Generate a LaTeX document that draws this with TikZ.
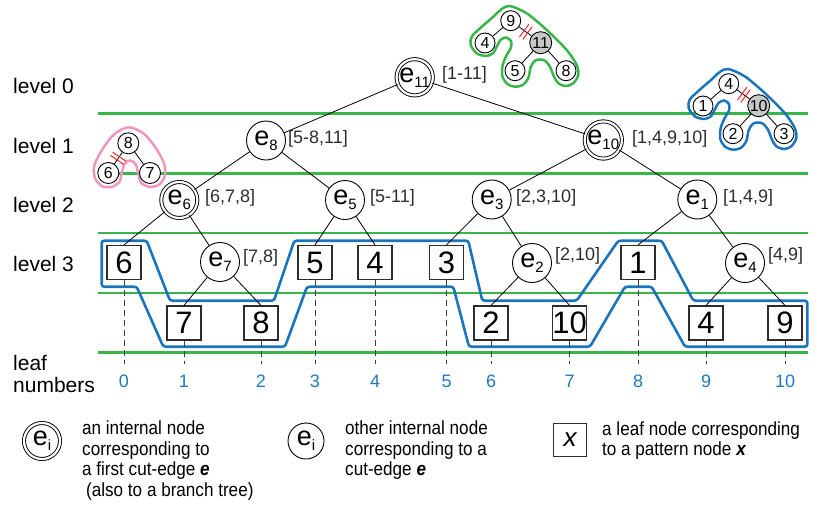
\documentclass[tikz,border=0pt]{standalone}
\usepackage{fontspec}
\setmainfont{Liberation Sans}
\newfontfamily\legendfont[FakeStretch=0.9]{Liberation Sans}
\usetikzlibrary{calc}
\definecolor{lgreen}{RGB}{57,181,74}
\definecolor{lblue}{RGB}{28,117,188}
\definecolor{numblue}{RGB}{30,122,192}
\definecolor{lpink}{RGB}{240,150,190}
\definecolor{cutred}{RGB}{235,40,50}
\definecolor{txtgray}{RGB}{45,45,45}
\definecolor{nodegray}{RGB}{200,200,200}
\newcommand{\enode}[1]{{\fontsize{27}{27}\selectfont e}\raisebox{-5pt}{\fontsize{15}{15}\selectfont #1}}
\newcommand{\treeoutline}{(510,6) (526.7,13.3) (546.7,30) (566.7,50) (576.7,65) (578.3,75) (573.3,83.3) (566,86) (558.3,83.3) (554,76.7) (550,66.7) (545,60.7) (540,59.5) (535,60.7) (530.7,67) (528.3,78) (522.7,85) (515,86.7) (507.3,84) (502.3,76) (502.7,65) (506.7,55) (511,47.5) (511,41) (506,37.5) (500.5,40) (496.5,47) (493,53.3) (486,56) (476.7,53.3) (470.7,45) (471.7,36.7) (480,28.3) (493.3,16.7) (501.7,9)}
\begin{document}
\begin{tikzpicture}[x=1pt,y=-1pt,
  inode/.style={circle,draw,line width=0.9pt,fill=white,minimum size=39pt,inner sep=0pt},
  fnode/.style={circle,draw,line width=0.9pt,double,double distance=2.2pt,fill=white,minimum size=36pt,inner sep=0pt},
  leafbox/.style={draw=txtgray,line width=1.2pt,fill=white,minimum size=34pt,inner sep=0pt,font=\fontsize{31}{31}\selectfont},
  small/.style={circle,draw,line width=0.9pt,fill=white,minimum size=20pt,inner sep=0pt,font=\fontsize{16}{16}\selectfont},
  smallgray/.style={small,fill=nodegray,minimum size=22pt},
  rng/.style={anchor=west,text=txtgray,font=\fontsize{18}{18}\selectfont,inner sep=0pt},
  lvl/.style={anchor=west,font=\fontsize{21}{21}\selectfont,inner sep=0pt},
  edge/.style={line width=0.8pt},
  hline/.style={lgreen,line width=2.5pt},
  dline/.style={dash pattern=on 6pt off 4pt,line width=1pt,black!75},
  leafnum/.style={text=numblue,font=\fontsize{18}{18}\selectfont,inner sep=0pt},
  tube/.style={line width=2.5pt},
  cut/.style={cutred,line width=1pt},
  legtext/.style={anchor=west,align=left,inner sep=0pt,font=\legendfont\fontsize{19}{20.5}\selectfont}
]
\useasboundingbox (0,0) rectangle (821,509);

% green level lines
\foreach \yy in {113.3,173.3,233,293,352.7} \draw[hline] (98,\yy) -- (808,\yy);

% ---- green small tree
\draw[tube,lgreen] plot[smooth cycle,tension=0.5] coordinates {\treeoutline};
\node[small] (n9) at (510.7,20.7) {9};
\node[small] (n4) at (485,43) {4};
\node[smallgray] (n11) at (540.7,42.7) {11};
\node[small] (n5) at (515,70.7) {5};
\node[small] (n8) at (566,70.7) {8};
\draw[edge] (n9) -- (n4);
\draw[edge] (n9) -- (n11);
\draw[edge] (n11) -- (n5);
\draw[edge] (n11) -- (n8);

% ---- blue small tree
\begin{scope}[shift={(218,63)}]
\draw[tube,lblue] plot[smooth cycle,tension=0.5] coordinates {\treeoutline};
\node[small] (m4) at (510.7,20.7) {4};
\node[small] (m1) at (485,43) {1};
\node[smallgray] (m10) at (540.7,42.7) {10};
\node[small] (m2) at (515,70.7) {2};
\node[small] (m3) at (566,70.7) {3};
\end{scope}
\draw[edge] (m4) -- (m1);
\draw[edge] (m4) -- (m10);
\draw[edge] (m10) -- (m2);
\draw[edge] (m10) -- (m3);

% ---- pink small tree
\draw[tube,lpink] plot[smooth cycle,tension=0.5] coordinates {(128.3,127.3) (113.3,135) (100,153.3) (94,166.7) (95,178.3) (101.7,186) (111.7,187) (119.3,182) (121.7,173.3) (124.5,164) (130,160.5) (135.5,164) (138.3,173.3) (141,182.7) (150,187) (160,184) (165,175) (164,163.3) (155,146.7) (143.3,133.3)};
\node[small,minimum size=21pt] (q8) at (128.3,143.3) {8};
\node[small,minimum size=21pt] (q6) at (108.3,173) {6};
\node[small,minimum size=21pt] (q7) at (150,173) {7};
\draw[edge] (q8) -- (q6);
\draw[edge] (q8) -- (q7);

% cut marks
\foreach \a/\b in {n9/n11,m4/m10,q8/q6}{
  \coordinate (c1) at ($(\a)!0.45!(\b)$);
  \coordinate (c2) at ($(\a)!0.56!(\b)$);
  \draw[cut] ($(c1)!8pt!90:(\b)$) -- ($(c1)!8pt!-90:(\b)$);
  \draw[cut] ($(c2)!8pt!90:(\b)$) -- ($(c2)!8pt!-90:(\b)$);
}

% big blue outline
\draw[lblue,line width=2.6pt,rounded corners=2.5pt]
 (101.7,240.7) -- (146.7,240.7) -- (170,300.7) -- (274,300.7) -- (294.3,240.7)
 -- (468.3,240.7) -- (482.3,300.7) -- (576.7,300.7) -- (618.3,240.7) -- (661.7,240.7)
 -- (693.3,300.7) -- (807.3,300.7) -- (807.3,346.7) -- (685,346.7) -- (651.7,286.7)
 -- (625,286.7) -- (590,346.7) -- (469,346.7) -- (453.3,286.7) -- (307,286.7)
 -- (285,346.7) -- (163.3,346.7) -- (136.7,286.7) -- (101.7,286.7) -- cycle;

% level labels
\node[lvl] (l0) at (13,86) {level 0};
\node[lvl] (l1) at (13,146) {level 1};
\node[lvl] (l2) at (13,205) {level 2};
\node[lvl] (l3) at (13,264) {level 3};
\node[lvl] (lf) at (13,363) {leaf};
\node[lvl] (lnum) at (13,385) {numbers};

% main tree
\node[fnode] (e11) at (414.7,77.3) {\enode{11}};
\node[rng] at (442,75) {[1-11]};
\node[inode] (e8) at (266,140.5) {\enode{8}};
\node[rng] at (288,139) {[5-8,11]};
\node[fnode] (e10) at (603.3,140) {\enode{10}};
\node[rng] at (632,139) {[1,4,9,10]};
\node[fnode] (e6) at (179.3,200) {\enode{6}};
\node[rng] at (205,198) {[6,7,8]};
\node[inode] (e5) at (345,200) {\enode{5}};
\node[rng] at (370,198) {[5-11]};
\node[inode] (e3) at (491.7,199.5) {\enode{3}};
\node[rng] at (516,198) {[2,3,10]};
\node[inode] (e1) at (697.3,199.5) {\enode{1}};
\node[rng] at (723,198) {[1,4,9]};

\node[leafbox] (b6) at (124,262.5) {6};
\node[inode] (e7) at (220,262) {\enode{7}};
\node[rng] at (243,258) {[7,8]};
\node[leafbox] (b5) at (315,262.5) {5};
\node[leafbox] (b4) at (375,262.5) {4};
\node[leafbox] (b3) at (446.5,262.5) {3};
\node[inode] (e2) at (532,263) {\enode{2}};
\node[rng] at (555,256) {[2,10]};
\node[leafbox] (b1) at (638,262.5) {1};
\node[inode] (e4) at (745,263) {\enode{4}};
\node[rng] at (768,256) {[4,9]};

\node[leafbox] (b7) at (184,323) {7};
\node[leafbox] (b8) at (261,323) {8};
\node[leafbox] (b2) at (491,323) {2};
\node[leafbox] (b10) at (569.5,323) {10};
\node[leafbox] (b4r) at (706,323) {4};
\node[leafbox] (b9) at (785,323) {9};

\draw[edge] (e11) -- (e8);
\draw[edge] (e11) -- (e10);
\draw[edge] (e8) -- (e6);
\draw[edge] (e8) -- (e5);
\draw[edge] (e10) -- (e3);
\draw[edge] (e10) -- (e1);
\draw[edge] (e6) -- (b6.north);
\draw[edge] (e6) -- (e7);
\draw[edge] (e7) -- (b7.north);
\draw[edge] (e7) -- (b8.north);
\draw[edge] (e5) -- (b5.north);
\draw[edge] (e5) -- (b4.north);
\draw[edge] (e3) -- (b3.north);
\draw[edge] (e3) -- (e2);
\draw[edge] (e2) -- (b2.north);
\draw[edge] (e2) -- (b10.north);
\draw[edge] (e1) -- (b1.north);
\draw[edge] (e1) -- (e4);
\draw[edge] (e4) -- (b4r.north);
\draw[edge] (e4) -- (b9.north);

% dashed lines and leaf numbers
\foreach \b/\x/\n in {b6/124/0,b7/184/1,b8/261/2,b5/315/3,b4/375/4,b3/446.5/5,b2/491/6,b10/569.5/7,b1/638/8,b4r/706/9,b9/785/10}{
  \coordinate (d\n) at (\x,364);
  \draw[dline] (\b.south) -- (d\n);
  \node[leafnum] (ln\n) at (\x,381) {\n};
}

% legend
\node[fnode] (lg1) at (42,441) {\enode{i}};
\node[legtext] (lt1) at (82,460.5) {an internal node\\corresponding to\\a first cut-edge \textbf{\textit{e}}\\\hspace{4pt}(also to a branch tree)};
\node[inode,minimum size=36pt] (lg2) at (306,441) {\enode{i}};
\node[legtext] (lt2) at (345,450.5) {other internal node\\corresponding to a\\cut-edge \textbf{\textit{e}}};
\node[leafbox,minimum size=33pt,font=\fontsize{26}{26}\selectfont\itshape] (lg3) at (570,440) {x};
\node[legtext] (lt3) at (602,440.5) {a leaf node corresponding\\to a pattern node \textbf{\textit{x}}};
\end{tikzpicture}
\end{document}
